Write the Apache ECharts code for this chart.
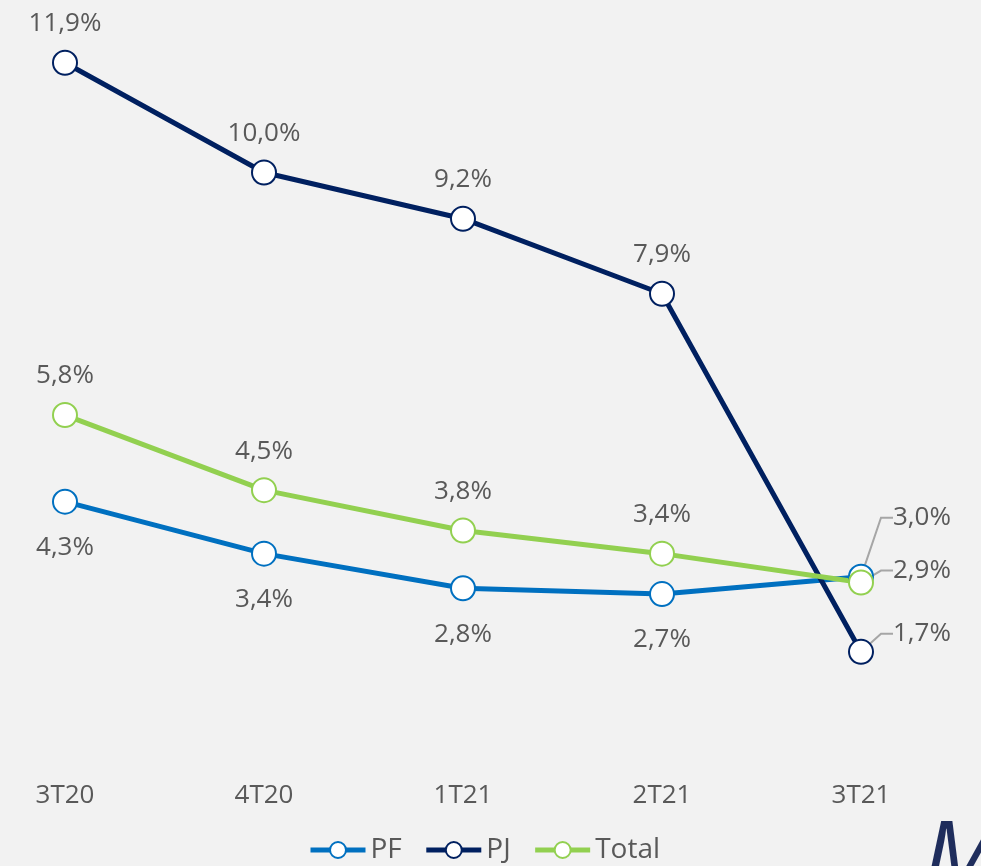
<!DOCTYPE html>
<html>
<head>
<meta charset="utf-8">
<script src="https://cdn.jsdelivr.net/npm/echarts@6/dist/echarts.min.js"></script>
<style>
  html, body { margin: 0; padding: 0; background: #f2f2f2; }
  #chart { width: 981px; height: 866px; }
</style>
</head>
<body>
<div id="chart"></div>
<script>
// dados
const categories = ['3T20', '4T20', '1T21', '2T21', '3T21']
const pfValues = [4.3, 3.4, 2.8, 2.7, 3.0]
const pjValues = [11.9, 10.0, 9.2, 7.9, 1.7]
const totalValues = [5.8, 4.5, 3.8, 3.4, 2.9]

const txtColor = '#595959'
const fontFamily = '"Open Sans", "Noto Sans", sans-serif'
const fontSize = 26
const lastIdx = categories.length - 1

const fmt = p => p.value.toFixed(1).replace('.', ',') + '%'

// label do último ponto vai para a direita com linha guia
function lastLabel (dy) {
  return function (params) {
    if (params.dataIndex !== lastIdx) return {}
    const r = params.rect
    return {
      x: r.x + r.width / 2 + 32,
      y: r.y + r.height / 2 + dy,
      align: 'left',
      verticalAlign: 'middle'
    }
  }
}

function makeSeries (name, values, color, pos, dist, dy) {
  // só o último ponto tem linha guia
  const data = values.map((v, i) => ({
    value: v,
    labelLine: { show: i === lastIdx }
  }))
  return {
    name: name,
    type: 'line',
    data: data,
    symbol: 'circle',
    symbolSize: 24,
    lineStyle: { color: color, width: 5 },
    itemStyle: { color: '#ffffff', borderColor: color, borderWidth: 2 },
    label: {
      show: true,
      position: pos,
      distance: dist,
      formatter: fmt,
      color: txtColor,
      fontSize: fontSize,
      fontFamily: fontFamily
    },
    labelLine: {
      show: false,
      length2: 12,
      lineStyle: { color: '#a6a6a6', width: 2 }
    },
    labelLayout: lastLabel(dy),
    animation: false
  }
}

const chart = echarts.init(document.getElementById('chart'))
chart.setOption({
  backgroundColor: '#f2f2f2',
  grid: { left: 65, right: 120, top: 57, bottom: 116 },
  legend: {
    bottom: -3,
    left: 303,
    itemWidth: 55,
    itemHeight: 20,
    itemGap: 22,
    lineStyle: { width: 5 },
    textStyle: { color: txtColor, fontSize: 28, fontFamily: fontFamily },
    data: ['PF', 'PJ', 'Total']
  },
  xAxis: {
    type: 'category',
    data: categories,
    boundaryGap: false,
    axisLine: { show: false },
    axisTick: { show: false },
    axisLabel: { color: txtColor, fontSize: fontSize, fontFamily: fontFamily, margin: 33 }
  },
  yAxis: {
    type: 'value',
    min: 0,
    max: 12,
    show: false,
    splitLine: { show: false }
  },
  series: [
    makeSeries('PF', pfValues, '#0070c0', 'bottom', 20, -59),
    makeSeries('PJ', pjValues, '#002060', 'top', 13, -18),
    makeSeries('Total', totalValues, '#92d050', 'top', 13, -12)
  ],
  graphic: [
    {
      type: 'text',
      right: -22,
      bottom: -44,
      style: {
        text: 'M',
        fill: '#1f2d5c',
        font: 'italic 96px "Open Sans", sans-serif'
      }
    }
  ]
})
</script>
</body>
</html>
